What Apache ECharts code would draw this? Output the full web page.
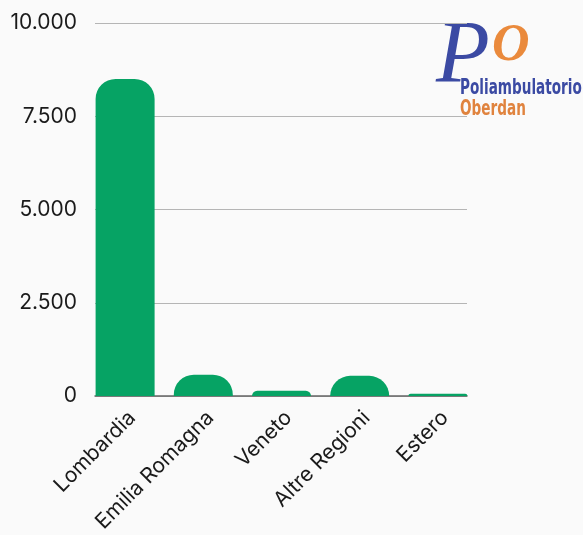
<!DOCTYPE html>
<html>
<head>
<meta charset="utf-8">
<script src="https://cdn.jsdelivr.net/npm/echarts@6/dist/echarts.min.js"></script>
<style>
  html, body { margin: 0; padding: 0; background: #fafafa; }
  #chart { width: 583px; height: 535px; }
</style>
</head>
<body>
<div id="chart"></div>
<script>
// dati
const regioni = ['Lombardia', 'Emilia Romagna', 'Veneto', 'Altre Regioni', 'Estero'];
const pazienti = [8500, 570, 140, 540, 60];
const yTicks = [0, 2500, 5000, 7500, 10000];

const chart = echarts.init(document.getElementById('chart'));

function formatIt(v) {
  return v.toString().replace(/\B(?=(\d{3})+(?!\d))/g, '.');
}

const option = {
  backgroundColor: '#fafafa',
  animation: false,
  textStyle: { fontFamily: 'Inter' },
  grid: [
    // griglia con le linee orizzontali
    { left: 95, right: 116, top: 23, bottom: 139 },
    // griglia delle barre (un po' piu larga, le barre toccano i bordi)
    { left: 86, right: 106, top: 23, bottom: 139 },
    // solo etichette, spostata un po' a destra
    { left: 93, right: 99, top: 23, bottom: 139 }
  ],
  xAxis: [
    {
      gridIndex: 0,
      type: 'value',
      min: 0, max: 1,
      axisLine: { show: true, lineStyle: { color: '#666', width: 1.5 } },
      axisTick: { show: false },
      axisLabel: { show: false },
      splitLine: { show: false }
    },
    {
      gridIndex: 1,
      type: 'category',
      data: regioni,
      axisLine: { show: false },
      axisTick: { show: false },
      axisLabel: { show: false }
    },
    {
      gridIndex: 2,
      type: 'category',
      data: regioni,
      axisLine: { show: false },
      axisTick: { show: false },
      axisLabel: {
        rotate: 45,
        margin: 33,
        interval: 0,
        fontSize: 21,
        color: '#1a1a1a',
        fontFamily: 'Inter'
      }
    }
  ],
  yAxis: [
    {
      gridIndex: 0,
      type: 'value',
      min: yTicks[0],
      max: yTicks[yTicks.length - 1],
      interval: 2500,
      axisLine: { show: false },
      axisTick: { show: false },
      axisLabel: {
        margin: 18,
        fontSize: 21,
        color: '#1a1a1a',
        fontFamily: 'Inter',
        formatter: formatIt
      },
      splitLine: { lineStyle: { color: '#b5b5b5', width: 1.2 } }
    },
    {
      gridIndex: 1,
      type: 'value',
      min: 0, max: 10000,
      show: false,
      splitLine: { show: false }
    },
    {
      gridIndex: 2,
      type: 'value',
      min: 0, max: 10000,
      show: false,
      splitLine: { show: false }
    }
  ],
  series: [
    {
      type: 'bar',
      xAxisIndex: 1,
      yAxisIndex: 1,
      data: pazienti,
      barWidth: 59,
      itemStyle: { color: '#06a364', borderRadius: [20, 20, 0, 0] }
    }
  ],
  graphic: [
    {
      type: 'text', left: 436, top: 14,
      style: { text: 'P', fill: '#3b4aa3', font: 'italic 88px "Liberation Serif"' }
    },
    {
      type: 'text', left: 492, top: 21,
      style: { text: 'O', fill: '#ea8a3c', font: 'italic bold 52px "Liberation Serif"' }
    },
    {
      type: 'text', x: 460, y: 78, scaleX: 0.72,
      style: { text: 'Poliambulatorio', fill: '#3b4aa3', font: 'bold 21px "DejaVu Sans Condensed"' }
    },
    {
      type: 'text', x: 460, y: 99, scaleX: 0.72,
      style: { text: 'Oberdan', fill: '#e0833e', font: 'bold 21px "DejaVu Sans Condensed"' }
    }
  ]
};

chart.setOption(option);
window.addEventListener('resize', function () { chart.resize(); });
</script>
</body>
</html>
